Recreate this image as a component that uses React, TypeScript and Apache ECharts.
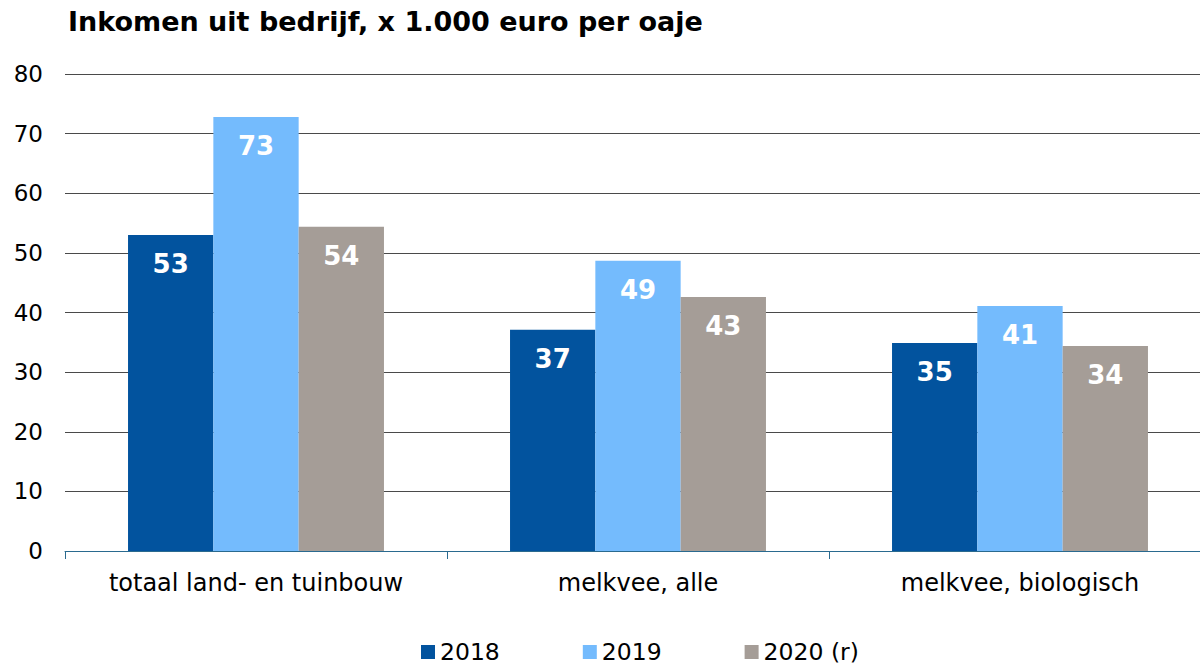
import React, { useEffect, useRef } from "react";
import * as echarts from "echarts";

const categories = ["totaal land- en tuinbouw", "melkvee, alle", "melkvee, biologisch"];
const seriesNames = ["2018", "2019", "2020 (r)"];
const values2018 = [53.0, 37.1, 34.9];
const values2019 = [72.8, 48.7, 41.1];
const values2020 = [54.4, 42.6, 34.4];
const colors = ["#02539E", "#74BBFD", "#A59D97"];
const yTicks = { min: 0, max: 80, interval: 10 };

export default function App() {
  const ref = useRef<HTMLDivElement>(null);
  useEffect(() => {
    if (!ref.current) return;
    const chart = echarts.init(ref.current, null, { renderer: "svg" });
    const font = "'DejaVu Sans', Verdana, sans-serif";
    const data = [values2018, values2019, values2020];
    chart.setOption({
      animation: false,
      textStyle: { fontFamily: font },
      title: {
        text: "Inkomen uit bedrijf, x 1.000 euro per oaje",
        left: 63,
        top: 3,
        textStyle: { fontFamily: font, fontSize: 27, fontWeight: "bold", color: "#000" },
      },
      legend: {
        top: 640,
        left: 421,
        padding: 0,
        itemWidth: 14,
        itemHeight: 14,
        itemGap: 83,
        icon: "rect",
        textStyle: { fontFamily: font, fontSize: 23.5, lineHeight: 24, color: "#000" },
        data: seriesNames,
      },
      grid: { left: 65, right: 0, top: 74, bottom: 114 },
      xAxis: {
        type: "category",
        data: categories,
        axisLine: { lineStyle: { color: "#2A6A8F", width: 1 } },
        axisTick: { show: true, interval: 0, length: 8, lineStyle: { color: "#2A6A8F" } },
        axisLabel: { fontFamily: font, fontSize: 24, color: "#000", margin: 20, interval: 0 },
      },
      yAxis: {
        type: "value",
        min: yTicks.min,
        max: yTicks.max,
        interval: yTicks.interval,
        axisLine: { show: false },
        axisTick: { show: false },
        splitLine: { lineStyle: { color: "#4A4A4A", width: 1 } },
        axisLabel: { fontFamily: font, fontSize: 23, color: "#000", margin: 22 },
      },
      series: seriesNames.map((name, i) => ({
        name,
        type: "bar",
        data: data[i],
        barGap: "0%",
        barCategoryGap: "33%",
        itemStyle: { color: colors[i] },
        label: {
          show: true,
          position: "insideTop",
          distance: 16,
          color: "#fff",
          fontFamily: font,
          fontSize: 26,
          fontWeight: "bold",
          formatter: (p: any) => String(Math.round(p.value)),
        },
      })),
    });
    return () => chart.dispose();
  }, []);
  return (
    <div style={{ width: 1200, height: 665, position: "absolute", left: 0, top: 0, overflow: "hidden" }}>
      <div ref={ref} style={{ width: 1211, height: 665 }} />
    </div>
  );
}
